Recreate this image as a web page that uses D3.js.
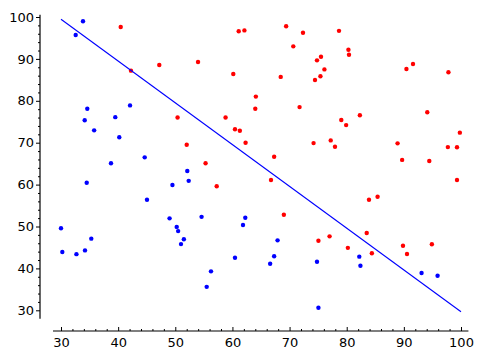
<!DOCTYPE html>
<html>
<head>
<meta charset="utf-8">
<script src="https://cdn.jsdelivr.net/npm/d3@7"></script>
<style>
  body { margin: 0; background: #fff; }
  svg { display: block; }
  .tick text { font-family: "DejaVu Sans", sans-serif; font-size: 13px; fill: #000; }
</style>
</head>
<body>
<svg></svg>
<script>
// blue group
let blueX = [33.85, 32.57, 34.6, 42.08, 39.5, 34.15, 35.8, 40.2, 38.75, 44.65,
             34.5, 45.05, 30.0, 30.23, 32.7, 34.2, 35.3, 52.1, 52.35, 49.5,
             49.0, 54.6, 62.25, 61.85, 50.25, 50.5, 51.5, 51.0, 60.45, 56.25,
             55.5, 67.9, 67.3, 66.6, 74.8, 75.05, 82.2, 82.4, 93.1, 95.9];
let blueY = [98.97, 95.7, 78.1, 78.9, 76.1, 75.35, 72.95, 71.3, 65.1, 66.5,
             60.45, 56.4, 49.6, 43.9, 43.4, 44.3, 47.1, 63.25, 60.9, 59.9,
             51.95, 52.3, 52.1, 50.35, 49.9, 48.9, 46.95, 45.8, 42.55, 39.3,
             35.6, 46.7, 42.9, 41.1, 41.6, 30.6, 42.8, 40.65, 38.9, 38.25];

// red group
let redX = [40.45, 42.25, 47.2, 53.98, 61.1, 62.1, 69.4, 72.35, 70.65, 60.15,
            68.45, 64.1, 64.0, 71.75, 50.4, 58.8, 78.65, 80.3, 80.4, 75.5,
            74.8, 76.1, 75.4, 74.45, 90.45, 91.6, 97.8, 82.3, 94.1, 79.05,
            79.9, 74.2, 77.2, 77.95, 99.8, 88.9, 97.7, 99.3, 89.7, 94.45,
            99.3, 83.9, 85.4, 60.45, 61.3, 62.3, 52.0, 67.3, 55.3, 66.75,
            57.25, 69.0, 75.05, 77.0, 80.2, 83.5, 84.4, 89.85, 90.55, 94.9];
let redY = [97.6, 87.2, 88.55, 89.25, 96.6, 96.8, 97.8, 96.25, 93.0, 86.4,
            85.7, 81.0, 78.1, 78.5, 76.0, 76.0, 96.7, 92.2, 91.0, 90.5,
            89.65, 87.5, 85.85, 84.95, 87.6, 88.8, 86.8, 76.55, 77.25, 75.4,
            74.2, 69.9, 70.55, 69.05, 72.4, 69.85, 68.95, 68.9, 65.9, 65.65,
            61.1, 56.4, 57.1, 73.2, 72.85, 70.0, 69.5, 66.65, 65.1, 61.1,
            59.6, 52.8, 46.6, 47.65, 44.9, 48.45, 43.6, 45.4, 43.45, 45.75];

// separating line
let lineX = [30, 100];
let lineY = [99.45, 29.67];

let xTicks = [30, 40, 50, 60, 70, 80, 90, 100];
let yTicks = [30, 40, 50, 60, 70, 80, 90, 100];

let width = 483;
let height = 361;

let svg = d3.select('svg')
  .attr('width', width)
  .attr('height', height);

let xScale = d3.scaleLinear().domain([30, 100]).range([61, 461]);
let yScale = d3.scaleLinear().domain([30, 100]).range([310.3, 17]);

let leftX = 40;
let bottomY = 331;

let minorX = d3.range(28, 102, 2).filter(v => v % 10 !== 0 && v >= 29 && v <= 101);
let minorY = d3.range(28, 101, 2).filter(v => v % 10 !== 0 && v >= 28.2 && v <= 100.5);

// left axis
let yAxis = d3.axisLeft(yScale).tickValues(yTicks).tickSize(4).tickPadding(2);
let gy = svg.append('g')
  .attr('transform', 'translate(' + leftX + ',0)')
  .call(yAxis);
svg.append('g')
  .attr('transform', 'translate(' + leftX + ',0)')
  .call(d3.axisLeft(yScale).tickValues(minorY).tickSize(2).tickFormat(''));

// bottom axis
let xAxis = d3.axisBottom(xScale).tickValues(xTicks).tickSize(-4).tickPadding(7);
svg.append('g')
  .attr('transform', 'translate(0,' + bottomY + ')')
  .call(xAxis);
svg.append('g')
  .attr('transform', 'translate(0,' + bottomY + ')')
  .call(d3.axisBottom(xScale).tickValues(minorX).tickSize(-2).tickFormat(''));

svg.selectAll('.domain').remove();
svg.selectAll('.tick line').attr('stroke', '#000').attr('stroke-width', 1);

// spines
svg.append('line')
  .attr('x1', leftX).attr('x2', leftX)
  .attr('y1', yScale(100.55)).attr('y2', yScale(28.0))
  .attr('stroke', '#000').attr('stroke-width', 1.2);
svg.append('line')
  .attr('x1', xScale(28.6)).attr('x2', xScale(101.3))
  .attr('y1', bottomY).attr('y2', bottomY)
  .attr('stroke', '#000').attr('stroke-width', 1.2);

// points
svg.append('g')
  .selectAll('circle')
  .data(blueX.map((x, i) => [x, blueY[i]]))
  .enter()
  .append('circle')
  .attr('cx', d => xScale(d[0]))
  .attr('cy', d => yScale(d[1]))
  .attr('r', 2.2)
  .attr('fill', '#0000ff');

svg.append('g')
  .selectAll('circle')
  .data(redX.map((x, i) => [x, redY[i]]))
  .enter()
  .append('circle')
  .attr('cx', d => xScale(d[0]))
  .attr('cy', d => yScale(d[1]))
  .attr('r', 2.2)
  .attr('fill', '#ff0000');

// line
let line = d3.line()
  .x(d => xScale(d[0]))
  .y(d => yScale(d[1]));
svg.append('path')
  .datum(lineX.map((x, i) => [x, lineY[i]]))
  .attr('d', line)
  .attr('fill', 'none')
  .attr('stroke', '#0000ff')
  .attr('stroke-width', 1.1);
</script>
</body>
</html>
